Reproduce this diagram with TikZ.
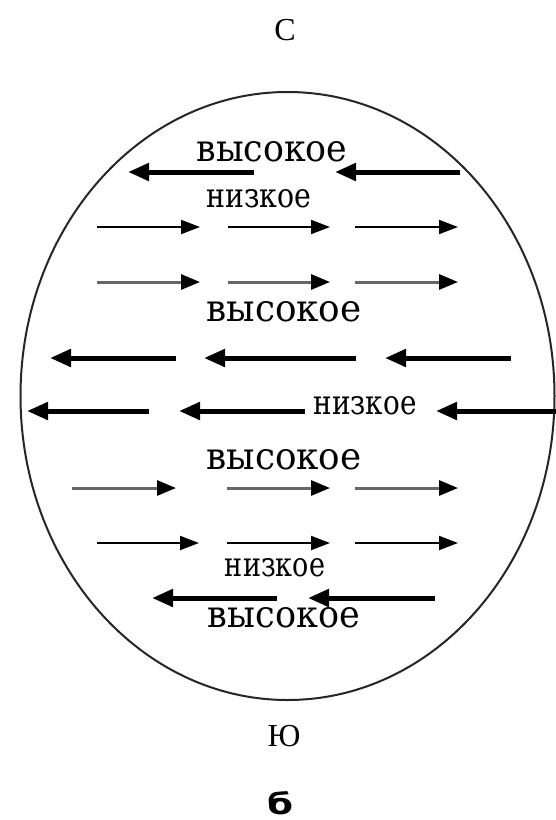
\documentclass[tikz,border=0pt]{standalone}
\usepackage{fontspec}
\usepackage{graphicx}
\setmainfont{Liberation Serif}
\newfontfamily\beltfont{DejaVu Serif}
\newfontfamily\labelsans{DejaVu Sans}
\usetikzlibrary{arrows.meta}

% pressure belt words, sized to a fixed width and letter height
\newcommand\beltword[3]{\resizebox{#1pt}{#2pt}{\beltfont #3}}

\begin{document}
\begin{tikzpicture}[x=1pt,y=-1pt,
  thickarrow/.style={line width=5pt,-{Triangle[length=21pt,width=17pt]}},
  thinarrow/.style={line width=2pt,draw=black,-{Triangle[length=19pt,width=14pt,color=black]}},
  grayarrow/.style={line width=3pt,draw=black!60,-{Triangle[length=19pt,width=15pt,color=black]}},
  pressure/.style={inner sep=0pt},
  pole/.style={inner sep=0pt,font=\fontsize{32}{32}\selectfont}
]
\useasboundingbox[fill=white] (0,0) rectangle (556,820);

% globe outline
\draw[line width=2pt,black!85] (287.5,396) ellipse [x radius=267, y radius=304];

% poles and caption
\node[pole] (north) at (285,30) {С};
\node[pole] (south) at (284,736) {Ю};
\node[inner sep=0pt,anchor=base] (caption) at (280,814)
  {\resizebox{26pt}{23pt}{\labelsans\bfseries б}};

% row 1: easterly flow near the north
\draw[thickarrow] (254,172) -- (128,172);
\draw[thickarrow] (460,172) -- (335,172);

% rows 2-3: westerlies
\foreach \y/\s in {227/thinarrow,282/grayarrow}{
  \draw[\s] (97,\y) -- (200,\y);
  \draw[\s] (228,\y) -- (330,\y);
  \draw[\s] (355,\y) -- (458,\y);
}

% rows 4-5: trade winds
\draw[thickarrow] (176,358) -- (50,358);
\draw[thickarrow] (356,358) -- (204,358);
\draw[thickarrow] (511,358) -- (385,358);
\draw[thickarrow] (149,411) -- (27,411);
\draw[thickarrow] (305,411) -- (179,411);
\draw[thickarrow] (556,411) -- (436,411);

% rows 6-7: westerlies
\draw[grayarrow] (72,488) -- (176,488);
\draw[grayarrow] (227,488) -- (330,488);
\draw[grayarrow] (355,488) -- (458,488);
\draw[thinarrow] (97,543) -- (199,543);
\draw[thinarrow] (227,543) -- (330,543);
\draw[thinarrow] (355,543) -- (458,543);

% row 8: easterly flow near the south
\draw[thickarrow] (277,598) -- (152,598);
\draw[thickarrow] (435,598) -- (308,598);

% pressure belts
\node[pressure] (h1) at (272,152) {\beltword{151}{20}{высокое}};
\node[pressure] (l1) at (259,199) {\beltword{105}{18}{низкое}};
\node[pressure] (h2) at (284,312) {\beltword{155}{20}{высокое}};
\node[pressure] (l2) at (365,406) {\beltword{103}{18}{низкое}};
\node[pressure] (h3) at (284,460) {\beltword{155}{20}{высокое}};
\node[pressure] (l3) at (275,568) {\beltword{100}{18}{низкое}};
\node[pressure] (h4) at (284,618) {\beltword{152}{20}{высокое}};
\end{tikzpicture}
\end{document}
